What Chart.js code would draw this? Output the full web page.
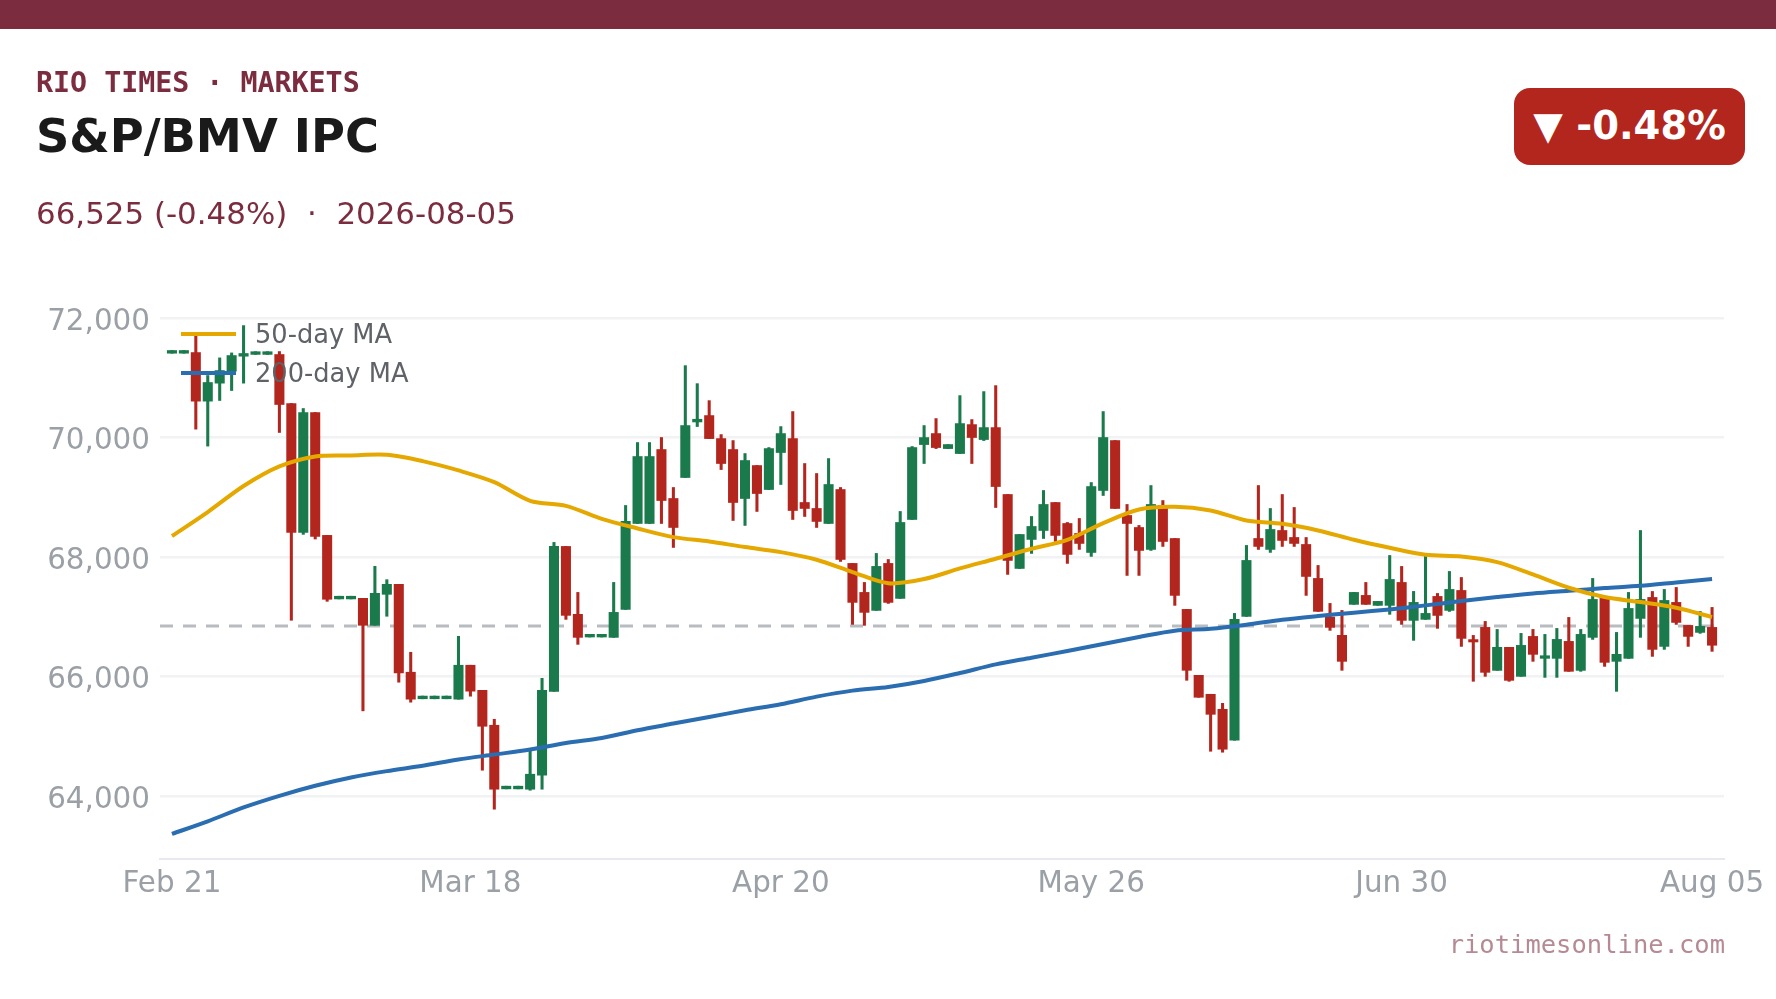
<!DOCTYPE html>
<html>
<head>
<meta charset="utf-8">
<title>S&amp;P/BMV IPC</title>
<script src="https://cdn.jsdelivr.net/npm/chart.js@4"></script>
<style>
  html, body { margin: 0; padding: 0; background: #fff; width: 1776px; height: 999px; overflow: hidden; }
  #topbar { position: absolute; left: 0; top: 0; width: 1776px; height: 29px; background: #7b2d3f; }
  #myChart { position: absolute; left: 0; top: 0; }
  .txt { position: absolute; white-space: pre; font-family: "DejaVu Sans", sans-serif; line-height: 1; }
  #kicker { left: 36px; top: 69px; font: bold 28.3px/1 "DejaVu Sans Mono", monospace; color: #7b2d3f; }
  #title { left: 36px; top: 113px; font-weight: bold; font-size: 46.3px; color: #1a1a1a; }
  #sub { left: 36px; top: 198px; font-size: 30.9px; color: #7b2d3f; }
  #badge { position: absolute; left: 1514px; top: 88px; width: 231px; height: 77px; border-radius: 16px; background: #b3261e;
           color: #fff; font: bold 38.5px/75px "DejaVu Sans", sans-serif; text-align: center; white-space: pre; }
  #site { right: 51px; top: 932px; font: 25.5px/1 "DejaVu Sans Mono", monospace; color: #b58a94; }
  .legline { position: absolute; left: 181px; width: 55px; height: 4px; }
  .legtxt { left: 255px; font-size: 25.7px; color: #5f6368; }
</style>
</head>
<body>
<canvas id="myChart" width="1776" height="999"></canvas>
<div id="topbar"></div>
<div class="txt" id="kicker">RIO TIMES · MARKETS</div>
<div class="txt" id="title">S&amp;P/BMV IPC</div>
<div class="txt" id="sub">66,525 (-0.48%)  ·  2026-08-05</div>
<div id="badge">▼ -0.48%</div>
<div class="txt" id="site">riotimesonline.com</div>
<script>
const tickIndex = [0, 25, 51, 77, 103, 129];
const tickLabels = ['Feb 21', 'Mar 18', 'Apr 20', 'May 26', 'Jun 30', 'Aug 05'];
const priceTicks = [64000, 66000, 68000, 70000, 72000];
const prevClose = 66846;

const openV = [71410,71410,71421,70608,70909,71109,71360,71390,71390,71388,
  70569,68413,70418,68363,67300,67300,67310,66859,67377,67544,
  66074,65630,65630,65630,65623,66191,65771,65187,64123,64123,
  64117,64351,65755,68178,67042,66663,66663,66657,67125,68562,
  68562,69799,68980,69331,70260,70367,69982,69799,68980,69531,
  69130,69749,69982,68913,68813,68562,69130,67894,67409,67108,
  67894,67309,68629,69882,70066,69815,69732,70216,69966,70166,
  69047,67810,68295,68445,68913,68562,68395,68077,69114,69949,
  68696,68495,68128,68863,68311,67125,66022,65705,65454,64936,
  67008,68311,68128,68445,68328,68211,67643,66997,66691,67209,
  67359,67192,67192,67576,66941,66958,67342,67108,67442,66620,
  66824,66105,66490,66005,66673,66306,66306,66590,66105,66657,
  67325,66256,66306,66974,67325,66506,67242,66857,66740,66824];
const highV = [71455,71455,71733,71037,71332,71415,71872,71435,71435,71438,
  70569,70485,70418,68363,67345,67345,67310,67845,67622,67544,
  66408,65675,65675,65675,66675,66191,65771,65287,64168,64168,
  64769,65972,68245,68178,67409,66708,66708,67576,68863,69916,
  69916,70000,69164,71202,70901,70617,70049,69949,69732,69531,
  69832,70183,70434,69565,69398,69648,69164,67894,67576,68061,
  67960,68763,69849,70200,70317,69882,70701,70300,70768,70868,
  69047,68378,68679,69114,68913,68579,68646,69247,70434,69949,
  68880,68529,69197,68946,68311,67125,66022,65705,65554,67058,
  68195,69197,68813,69047,68830,68328,67860,67225,67108,67409,
  67576,67259,68027,67844,67426,68027,67392,67760,67659,66690,
  66924,66790,66490,66724,66790,66707,66807,66991,66790,67643,
  67325,66740,67409,68445,67425,67459,67492,66857,67091,67158];
const lowV = [71410,71410,70140,69856,70619,70786,70909,71390,71390,70084,
  66943,68380,68302,67260,67300,67300,65428,66859,67010,65907,
  65573,65630,65630,65630,65623,65673,64435,63783,64123,64123,
  64100,64117,65755,66958,66540,66663,66663,66657,67125,68562,
  68562,68562,68161,69331,70183,69982,69464,68612,68529,68763,
  69130,69214,68629,68679,68495,68562,67927,66874,66858,67108,
  67225,67309,68629,69565,69815,69815,69732,69565,69949,68829,
  67710,67810,68061,68311,68261,67894,68128,68011,69030,68813,
  67693,67693,68111,68178,67192,65939,65655,64752,64736,64936,
  67008,68128,68078,68178,68178,67359,67092,66774,66106,67209,
  67209,67192,67042,66874,66607,66958,66808,67091,66506,65922,
  66005,66105,65922,66005,66256,65988,65988,66089,66089,66623,
  66172,65754,66306,66657,66339,66456,66874,66506,66724,66423];
const closeV = [71455,71455,70608,70920,71120,71371,71405,71435,71435,70552,
  68413,70418,68346,67294,67345,67345,66859,67394,67544,66063,
  65623,65675,65675,65675,66191,65757,65170,64117,64168,64168,
  64368,65771,68178,67025,66657,66708,66708,67075,68596,69682,
  69682,68946,68495,70200,70305,69982,69565,68913,69615,69063,
  69815,70066,68779,68813,68596,69214,67960,67242,67075,67844,
  67242,68579,69832,69999,69832,69882,70233,70000,70166,69180,
  67944,68378,68512,68880,68362,68044,68228,69180,70000,68813,
  68562,68111,68880,68261,67359,66106,65655,65370,64786,66958,
  67944,68178,68462,68278,68228,67676,67092,66824,66256,67409,
  67209,67259,67626,66941,67242,67058,67024,67459,66640,66580,
  66072,66490,65938,66523,66373,66350,66623,66089,66707,67292,
  66239,66373,67141,67292,66456,67275,66907,66673,66841,66525];

const maNames = ['50-day MA', '200-day MA'];
const maColors = ['#e5a800', '#2a6db0'];
const maIndex = [0,3,6,9,12,15,18,21,24,27,30,33,36,39,42,45,48,51,54,57,60,63,
  66,69,72,75,78,81,84,87,90,93,96,99,102,105,108,111,114,117,120,123,126,129];
const ma50 = [68352,68753,69188,69516,69683,69700,69711,69605,69449,69253,68941,68857,68640,68479,68334,68261,68167,68083,67955,67749,67562,67632,
  67810,67972,68139,68289,68568,68796,68841,68779,68612,68556,68445,68289,68155,68038,68010,67916,67709,67487,67331,67247,67153,66996];
const ma200 = [63370,63580,63813,64007,64175,64314,64420,64509,64615,64697,64780,64891,64975,65103,65215,65326,65437,65538,65666,65766,65827,65927,
  66061,66206,66317,66429,66546,66663,66769,66802,66869,66952,67014,67069,67125,67192,67264,67331,67392,67437,67481,67520,67576,67632];

const upColor = '#1a7a4c';
const downColor = '#b3261e';

function makeChart() {
    const candleColors = openV.map((o, i) => closeV[i] >= o ? upColor : downColor);
    const wicks = openV.map((o, i) => ({x: i, y: [lowV[i], highV[i]]}));
    const bodies = openV.map((o, i) => ({x: i, y: [Math.min(o, closeV[i]), Math.max(o, closeV[i])]}));
    const toPoints = arr => arr.map((v, i) => ({x: maIndex[i], y: v}));

    const config = {
        type: 'bar',
        data: {
            datasets: [
                {type: 'line', label: maNames[0], data: toPoints(ma50), borderColor: maColors[0], borderWidth: 4, pointRadius: 0, tension: 0.3, order: 0},
                {type: 'line', label: maNames[1], data: toPoints(ma200), borderColor: maColors[1], borderWidth: 4, pointRadius: 0, tension: 0.3, order: 1},
                {label: 'Body', data: bodies, backgroundColor: candleColors, barThickness: 9.4, grouped: false, order: 2},
                {label: 'Range', data: wicks, backgroundColor: candleColors, barThickness: 2.4, grouped: false, order: 3},
                {type: 'line', label: 'Previous close', data: [{x: -1, y: prevClose}, {x: 130, y: prevClose}], borderColor: '#b8bcc0', borderWidth: 3, borderDash: [13, 10], pointRadius: 0, order: 4}
            ]
        },
        options: {
            responsive: false,
            animation: false,
            devicePixelRatio: 1,
            layout: {padding: {left: 0, right: 52, top: 300, bottom: 0}},
            plugins: {legend: {display: false}, tooltip: {enabled: false}},
            scales: {
                x: {
                    type: 'linear',
                    offset: false,
                    min: -1,
                    max: 130,
                    afterBuildTicks: axis => { axis.ticks = tickIndex.map(v => ({value: v})); },
                    afterFit: axis => { axis.height = 140; },
                    grid: {display: false},
                    border: {color: '#e8e8ee', width: 2},
                    ticks: {
                        autoSkip: false,
                        maxRotation: 0,
                        padding: 0,
                        color: '#9aa0a6',
                        font: {family: '"DejaVu Sans"', size: 29.4},
                        callback: v => tickLabels[tickIndex.indexOf(v)]
                    }
                },
                y: {
                    min: 62950,
                    max: 72300,
                    afterBuildTicks: axis => { axis.ticks = priceTicks.map(v => ({value: v})); },
                    afterFit: axis => { axis.width = 160; },
                    grid: {color: '#f1f2f4', lineWidth: 2.5, drawTicks: false},
                    border: {display: false},
                    ticks: {
                        padding: 10,
                        labelOffset: 4,
                        color: '#9aa0a6',
                        font: {family: '"DejaVu Sans"', size: 29.4},
                        callback: v => v.toLocaleString('en-US')
                    }
                }
            }
        }
    };
    return new Chart(document.getElementById('myChart'), config);
}

function makeLegend() {
    maNames.forEach((name, i) => {
        const y = 333.5 + i * 39.5;
        const line = document.createElement('div');
        line.className = 'legline';
        line.style.top = (y - 2) + 'px';
        line.style.background = maColors[i];
        document.body.appendChild(line);
        const label = document.createElement('div');
        label.className = 'txt legtxt';
        label.style.top = (y - 12) + 'px';
        label.textContent = name;
        document.body.appendChild(label);
    });
}

makeChart();
makeLegend();
</script>
</body>
</html>
